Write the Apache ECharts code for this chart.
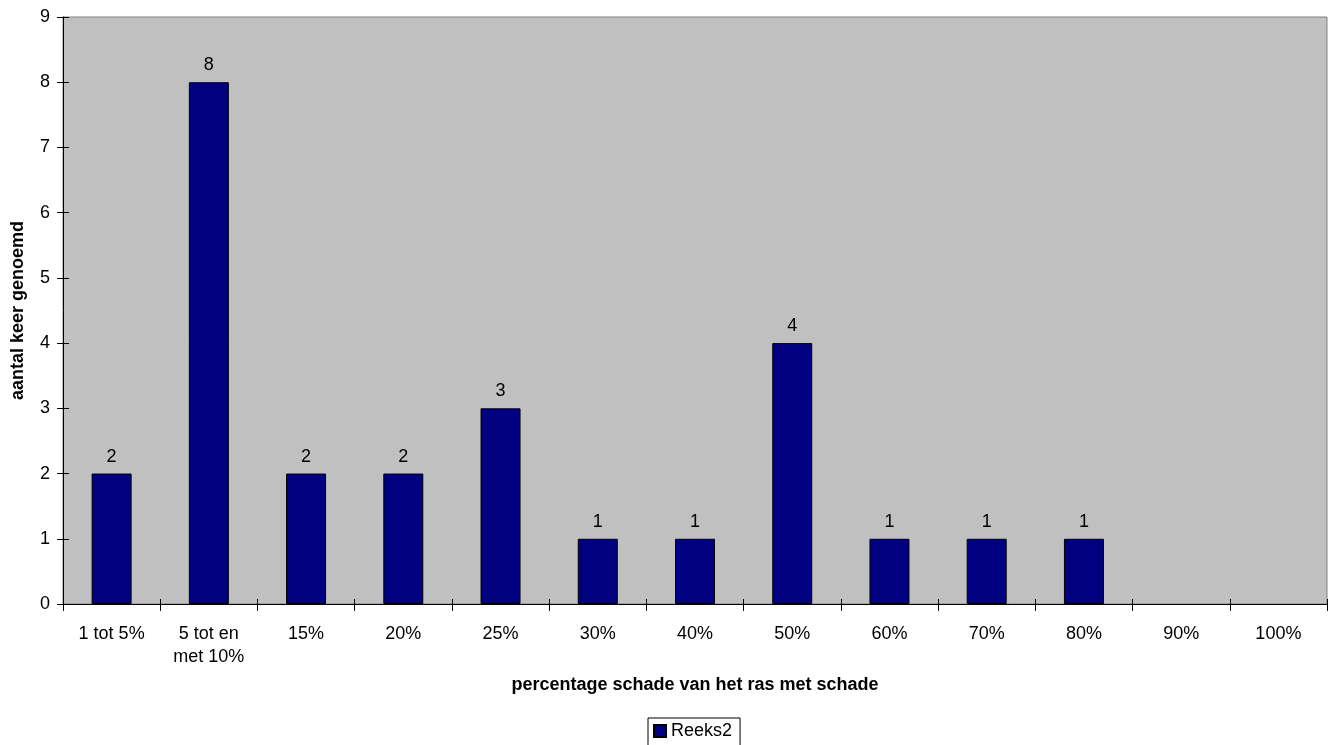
<!DOCTYPE html>
<html>
<head>
<meta charset="utf-8">
<script src="https://cdn.jsdelivr.net/npm/echarts@6/dist/echarts.min.js"></script>
<style>
  html, body { margin: 0; padding: 0; background: #ffffff; }
  #chart { width: 1333px; height: 745px; }
</style>
</head>
<body>
<div id="chart"></div>
<script>
// Damage percentage classes and how often each was named
const categories = ['1 tot 5%', '5 tot en\nmet 10%', '15%', '20%', '25%', '30%', '40%', '50%', '60%', '70%', '80%', '90%', '100%'];
const counts = [2, 8, 2, 2, 3, 1, 1, 4, 1, 1, 1, null, null];
const seriesName = 'Reeks2';
const yTitle = 'aantal keer genoemd';
const xTitle = 'percentage schade van het ras met schade';

const FONT = '"Liberation Sans", Arial, sans-serif';
const FS = 18;

const chart = echarts.init(document.getElementById('chart'), null, { renderer: 'canvas' });
chart.setOption({
  animation: false,
  textStyle: { fontFamily: FONT, color: '#000' },
  grid: {
    left: 63, top: 17, right: 6, bottom: 141,
    show: true, backgroundColor: '#c0c0c0', borderColor: '#808080', borderWidth: 1
  },
  legend: {
    top: 718, left: 648,
    data: [seriesName],
    itemWidth: 12, itemHeight: 12, itemGap: 4,
    padding: [4, 8, 6, 5],
    borderColor: '#000', borderWidth: 1,
    backgroundColor: '#fff',
    textStyle: { fontFamily: FONT, fontSize: FS, color: '#000' },
    icon: 'rect'
  },
  xAxis: [{
    type: 'category',
    position: 'bottom',
    data: categories,
    name: xTitle,
    nameLocation: 'middle',
    nameGap: 72,
    nameTextStyle: { fontFamily: FONT, fontSize: FS, fontWeight: 'bold', color: '#000' },
    axisLine: { lineStyle: { color: '#000', width: 1 } },
    axisTick: { show: true, length: 7, lineStyle: { color: '#000' } },
    axisLabel: { fontFamily: FONT, fontSize: FS, color: '#000', margin: 19, lineHeight: 23, interval: 0 },
    splitLine: { show: false }
  }, {
    // inner half of the category tick marks
    type: 'category',
    position: 'bottom',
    offset: 0,
    data: categories,
    axisLine: { show: false },
    axisTick: { show: true, inside: true, length: 5, lineStyle: { color: '#000' } },
    axisLabel: { show: false },
    splitLine: { show: false }
  }],
  yAxis: [{
    type: 'value',
    position: 'left',
    min: 0, max: 9, interval: 1,
    name: yTitle,
    nameLocation: 'middle',
    nameGap: 36,
    nameRotate: 90,
    nameTextStyle: { fontFamily: FONT, fontSize: FS, fontWeight: 'bold', color: '#000' },
    axisLine: { show: true, lineStyle: { color: '#000', width: 1 } },
    axisTick: { show: true, length: 6, lineStyle: { color: '#000' } },
    axisLabel: { fontFamily: FONT, fontSize: FS, color: '#000', margin: 13 },
    splitLine: { show: false }
  }, {
    // inner half of the value tick marks
    type: 'value',
    position: 'left',
    offset: 0,
    min: 0, max: 9, interval: 1,
    axisLine: { show: false },
    axisTick: { show: true, inside: true, length: 6, lineStyle: { color: '#000' } },
    axisLabel: { show: false },
    splitLine: { show: false }
  }],
  series: [{
    name: seriesName,
    type: 'bar',
    xAxisIndex: 0,
    yAxisIndex: 0,
    data: counts,
    barWidth: 40,
    itemStyle: { color: '#000080', borderColor: '#000', borderWidth: 1 },
    label: {
      show: true, position: 'top', distance: 8,
      fontFamily: FONT, fontSize: FS, color: '#000'
    }
  }]
});
</script>
</body>
</html>
